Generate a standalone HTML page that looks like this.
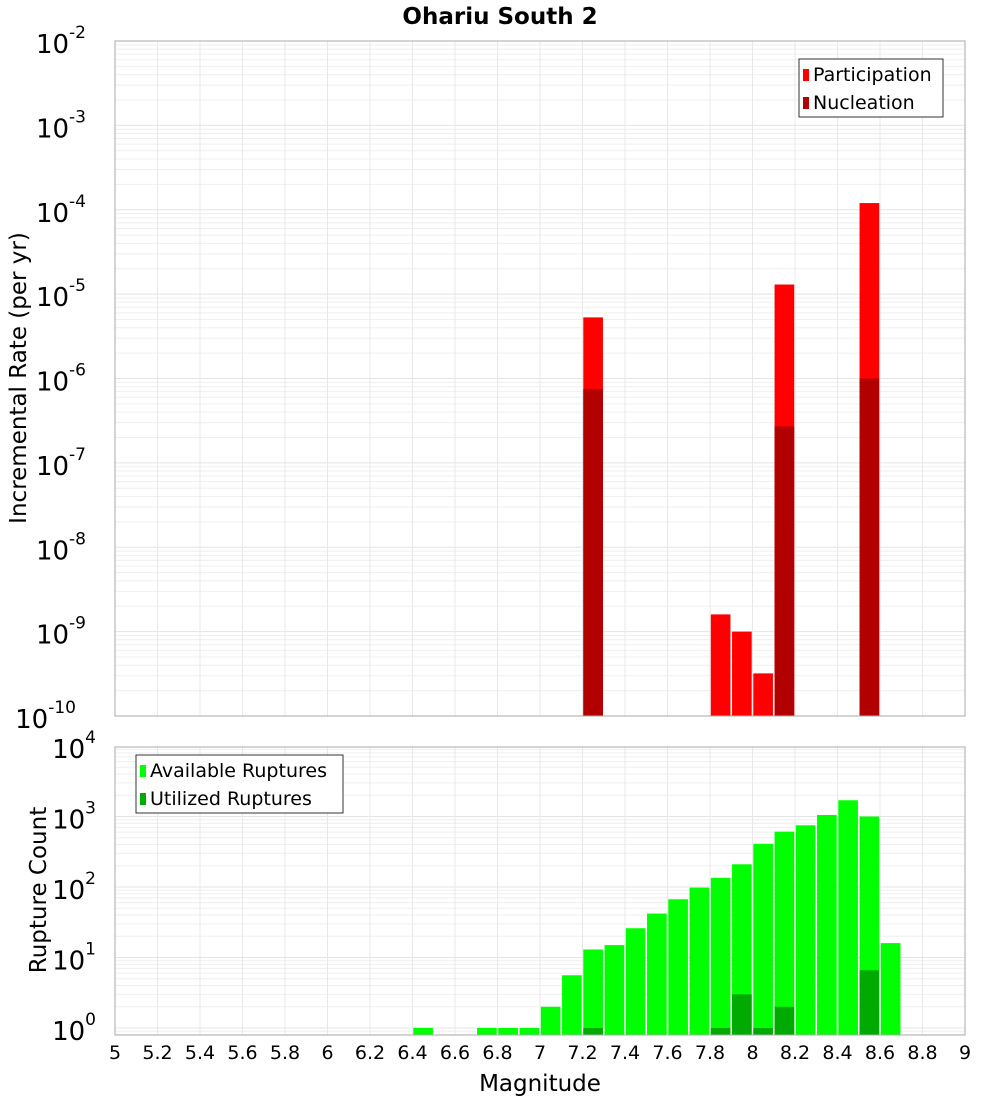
<!DOCTYPE html>
<html><head><meta charset="utf-8"><style>
body{margin:0;background:#fff;width:1000px;height:1100px;overflow:hidden;font-family:"Liberation Sans","DejaVu Sans",sans-serif}
svg text{font-family:"DejaVu Sans","Liberation Sans",sans-serif}
</style></head><body>
<svg id="c" width="1000" height="1100" xmlns="http://www.w3.org/2000/svg">
<text x="500" y="24" text-anchor="middle" font-size="23" font-weight="bold">Ohariu South 2</text>
</svg>
<script>
const binCenters=[6.45,6.75,6.85,6.95,7.05,7.15,7.25,7.35,7.45,7.55,7.65,7.75,7.85,7.95,8.05,8.15,8.25,8.35,8.45,8.55,8.65];
const availRuptures=[1,1,1,1,2,5.6,13,15,26,42,67,98,135,210,410,610,750,1050,1700,1000,16];
const utilBins=[7.25,7.85,7.95,8.05,8.15,8.55];
const utilRuptures=[1,1,3,1,2,6.6];
const partBins=[7.25,7.85,7.95,8.05,8.15,8.55];
const partRates=[5.3e-6,1.6e-9,1.0e-9,3.2e-10,1.3e-5,1.2e-4];
const nuclBins=[7.25,8.15,8.55];
const nuclRates=[7.5e-7,2.7e-7,1.0e-6];
const xTicks=[5,5.2,5.4,5.6,5.8,6,6.2,6.4,6.6,6.8,7,7.2,7.4,7.6,7.8,8,8.2,8.4,8.6,8.8,9];
const topExps=[-2,-3,-4,-5,-6,-7,-8,-9,-10];
const botExps=[4,3,2,1,0];

const NS='http://www.w3.org/2000/svg',svg=document.getElementById('c');
function mk(t,a,p){const e=document.createElementNS(NS,t);for(const k in a)e.setAttribute(k,a[k]);(p||svg).appendChild(e);return e;}
const L=115,R=965,T1=41,B1=716,T2=747,B2=1035;
const X=v=>L+(v-5)/4*(R-L);
const Y1=v=>T1+(-2-Math.log10(v))/8*(B1-T1);
const Y2=v=>1028-Math.log10(v)*70.5;
const bw=(R-L)/40;

function grid(T,B,Yf,lo,hi){
  for(let e=lo;e<hi;e++)for(let m=1;m<10;m++){const y=Yf(m*Math.pow(10,e));if(y<T||y>B)continue;
    const l=mk('line',{x1:L,x2:R,y1:y,y2:y,stroke:m==1?'#e4e4e4':'#efefef','stroke-width':1});
    }
  xTicks.forEach(t=>{const l=mk('line',{x1:X(t),x2:X(t),y1:T,y2:B,stroke:'#e8e8e8'});
    });
}
grid(T1,B1,Y1,-10,-2);
grid(T2,B2,Y2,-1,4);

function bar(c,v,Yf,B,col,name){const y=Yf(v);const r=mk('rect',{x:X(c)-bw/2+0.8,y:y,width:bw-1.6,height:B-y,fill:col});
  }
partBins.forEach((c,i)=>bar(c,partRates[i],Y1,B1,'#ff0000','participation-bar'));
nuclBins.forEach((c,i)=>bar(c,nuclRates[i],Y1,B1,'#b20000','nucleation-bar'));
binCenters.forEach((c,i)=>bar(c,availRuptures[i],Y2,B2,'#00ff00','available-bar'));
utilBins.forEach((c,i)=>bar(c,utilRuptures[i],Y2,B2,'#00aa00','utilized-bar'));

[[T1,B1],[T2,B2]].forEach(([t,b],i)=>{const r=mk('rect',{x:L,y:t,width:R-L,height:b-t,fill:'none',stroke:'#aaa'});
  });

function ylab(y,e,name){const t=mk('text',{x:104,y:y+12,'text-anchor':'end','font-size':26});
  
  t.textContent='10';const s=mk('tspan',{dy:-15,'font-size':17},t);s.textContent=String(e);
  t.setAttribute('x',106-String(e).length*10);}
topExps.forEach(e=>ylab(Y1(Math.pow(10,e)),e,'y-tick-label'));
botExps.forEach(e=>ylab(Y2(Math.pow(10,e)),e,'y-tick-label'));
xTicks.forEach(t=>{const tx=mk('text',{x:X(t),y:1059,'text-anchor':'middle','font-size':19});
  tx.textContent=String(t);});

let t=mk('text',{x:540,y:1091,'text-anchor':'middle','font-size':23});t.textContent='Magnitude';
t=mk('text',{x:26,y:378,'text-anchor':'middle','font-size':23,transform:'rotate(-90 26 378)'});t.textContent='Incremental Rate (per yr)';
t=mk('text',{x:46,y:890,'text-anchor':'middle','font-size':23,transform:'rotate(-90 46 890)'});t.textContent='Rupture Count';

function legend(x,y,w,items,name){const g=mk('g',{});
  mk('rect',{x:x,y:y,width:w,height:58,fill:'#fff',stroke:'#333'},g);
  items.forEach(([lab,col],i)=>{mk('rect',{x:x+4,y:y+10+i*28,width:6,height:12,fill:col},g);
    const tx=mk('text',{x:x+14,y:y+22+i*28,'font-size':19},g);tx.textContent=lab;});}
legend(799,59,144,[['Participation','#ff0000'],['Nucleation','#b20000']],'upper-legend');
legend(136,755,207,[['Available Ruptures','#00ff00'],['Utilized Ruptures','#00aa00']],'lower-legend');
</script>
</body></html>
